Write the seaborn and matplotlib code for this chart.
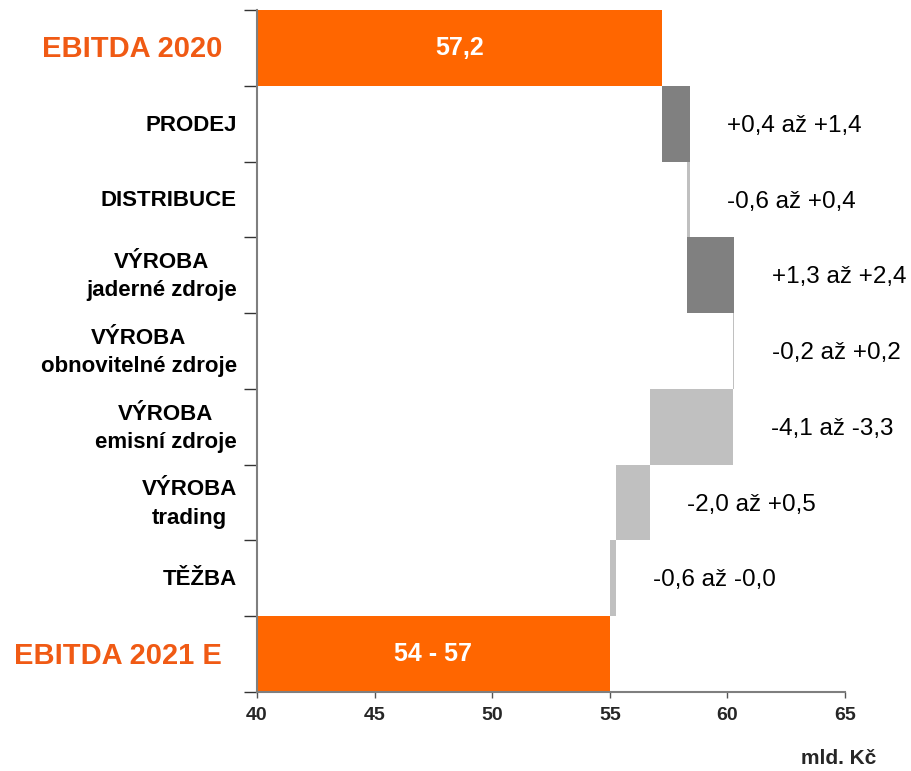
import matplotlib
matplotlib.use("Agg")
import matplotlib.pyplot as plt
import seaborn as sns
import numpy as np

# data (mld. Kč)
categories = ["EBITDA 2020", "PRODEJ", "DISTRIBUCE", "VÝROBA\njaderné zdroje",
              "VÝROBA\nobnovitelné zdroje", "VÝROBA\nemisní zdroje", "VÝROBA\ntrading",
              "TĚŽBA", "EBITDA 2021 E"]
ebitda_2020 = 57.2
deltas = [1.2, -0.1, 2.0, -0.05, -3.55, -1.45, -0.25]
ebitda_2021 = 55.0
range_labels = ["+0,4 až +1,4", "-0,6 až +0,4", "+1,3 až +2,4", "-0,2 až +0,2",
                "-4,1 až -3,3", "-2,0 až +0,5", "-0,6 až -0,0"]
total_labels = ["57,2", "54 - 57"]
x_ticks = [40, 45, 50, 55, 60, 65]

ORANGE = "#FF6600"
ORANGE_TXT = "#F05A14"
DARK = "#808080"
LIGHT = "#C0C0C0"
AXIS = "#7F7F7F"

sns.set_style("ticks")
plt.rcParams['font.family'] = ['Liberation Sans', 'DejaVu Sans']

fig = plt.figure(figsize=(9.11, 7.71), dpi=100)
ax = fig.add_axes([257 / 911, 1 - 692 / 771, (845 - 257) / 911, (692 - 10) / 771])

x0 = x_ticks[0]
n = len(categories)

# totals
ax.barh([0, n - 1], [ebitda_2020 - x0, ebitda_2021 - x0], left=x0, height=1.0,
        color=ORANGE, edgecolor="none")
ax.text((x0 + ebitda_2020) / 2, 0, total_labels[0], ha="center", va="center",
        color="white", fontsize=18, fontweight="bold")
ax.text((x0 + ebitda_2021) / 2, n - 1, total_labels[1], ha="center", va="center",
        color="white", fontsize=18, fontweight="bold")

# steps
starts = ebitda_2020 + np.concatenate([[0], np.cumsum(deltas)[:-1]])
for i, (s, d, lab) in enumerate(zip(starts, deltas, range_labels), start=1):
    ax.barh(i, d, left=s, height=1.0, color=DARK if d > 0 else LIGHT, edgecolor="none")
    ax.annotate(lab, xy=(max(s, s + d), i), xytext=(27, -1.5), textcoords="offset points",
                ha="left", va="center", fontsize=17.5, color="black")

# category labels
for i, cat in enumerate(categories):
    total = i in (0, n - 1)
    ax.annotate(cat, xy=(0, i), xycoords=("axes fraction", "data"),
                xytext=(-25 if total else -14.5, -1), textcoords="offset points",
                ha="right", va="center", multialignment="center",
                fontsize=21 if total else 16, fontweight="bold",
                color=ORANGE_TXT if total else "black", linespacing=1.45)

ax.set_xlim(x0, x_ticks[-1])
ax.set_ylim(n - 0.5, -0.5)
ax.set_xticks(x_ticks)
ax.set_xticklabels([str(t) for t in x_ticks], fontsize=14, fontweight="bold")
ax.set_yticks([])
ax.set_yticks(np.arange(-0.5, n), minor=True)
ax.tick_params(axis="y", which="minor", length=9.5, width=1, color="#333333", direction="out")
ax.tick_params(axis="x", length=4.5, width=1, color="#555555", pad=6)

for side in ("top", "right"):
    ax.spines[side].set_visible(False)
for side in ("left", "bottom"):
    ax.spines[side].set_color(AXIS)
    ax.spines[side].set_linewidth(1.5)

fig.text(876 / 911, 1 - 759 / 771, "mld. Kč", ha="right", va="center",
         fontsize=15, fontweight="bold")

fig.savefig("out.png", dpi=100)
